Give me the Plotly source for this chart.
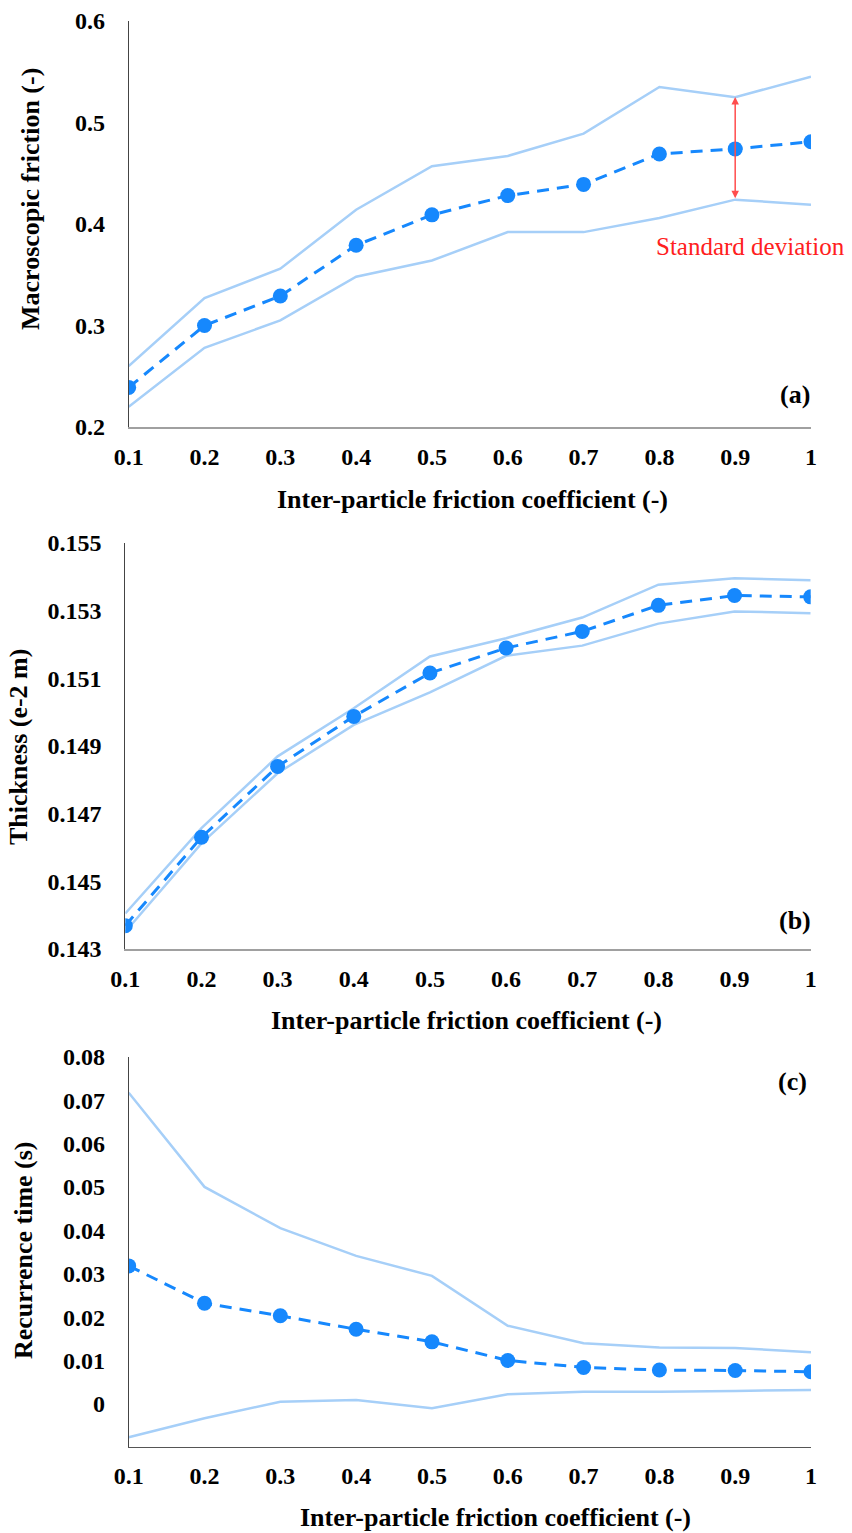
import plotly.graph_objects as go

# ---------------- data ----------------
friction_coef = [0.1, 0.2, 0.3, 0.4, 0.5, 0.6, 0.7, 0.8, 0.9, 1.0]
x_tick_text = ["0.1", "0.2", "0.3", "0.4", "0.5", "0.6", "0.7", "0.8", "0.9", "1"]

macro_mean = [0.239, 0.300, 0.329, 0.379, 0.409, 0.428, 0.439, 0.469, 0.474, 0.481]
macro_upper = [0.260, 0.327, 0.356, 0.414, 0.457, 0.467, 0.489, 0.535, 0.525, 0.545]
macro_lower = [0.220, 0.278, 0.305, 0.348, 0.364, 0.392, 0.392, 0.406, 0.424, 0.419]

thick_mean = [0.14369, 0.14630, 0.14839, 0.14987, 0.15115, 0.15189, 0.15238, 0.15315, 0.15344, 0.15340]
thick_upper = [0.14405, 0.14657, 0.14869, 0.15011, 0.15164, 0.15218, 0.15279, 0.15376, 0.15395, 0.15389]
thick_lower = [0.14351, 0.14612, 0.14819, 0.14962, 0.15058, 0.15166, 0.15196, 0.15261, 0.15297, 0.15292]

rec_mean = [0.0318, 0.0232, 0.0203, 0.0172, 0.0143, 0.0100, 0.0084, 0.0078, 0.0077, 0.0074]
rec_upper = [0.0717, 0.0500, 0.0405, 0.0341, 0.0295, 0.0180, 0.0140, 0.0130, 0.0129, 0.0119]
rec_lower = [-0.0077, -0.0033, 0.0005, 0.0009, -0.0010, 0.0022, 0.0028, 0.0028, 0.0030, 0.0032]

macro_ticks = [0.2, 0.3, 0.4, 0.5, 0.6]
macro_tick_text = ["0.2", "0.3", "0.4", "0.5", "0.6"]
thick_ticks = [0.143, 0.145, 0.147, 0.149, 0.151, 0.153, 0.155]
thick_tick_text = ["0.143", "0.145", "0.147", "0.149", "0.151", "0.153", "0.155"]
rec_ticks = [0, 0.01, 0.02, 0.03, 0.04, 0.05, 0.06, 0.07, 0.08]
rec_tick_text = ["0", "0.01", "0.02", "0.03", "0.04", "0.05", "0.06", "0.07", "0.08"]

# ---------------- style ----------------
W, H = 852, 1533
FONT = "Liberation Serif"
MEAN_C = "#1688fd"
BAND_C = "#a6cff8"


def px_x(x):
    return x / W


def px_y(y):
    return (H - y) / H


fig = go.Figure()

panels = [
    ("x", "y", macro_mean, macro_upper, macro_lower),
    ("x2", "y2", thick_mean, thick_upper, thick_lower),
    ("x3", "y3", rec_mean, rec_upper, rec_lower),
]
for xa, ya, m, u, l in panels:
    for band in (u, l):
        fig.add_trace(go.Scatter(x=friction_coef, y=band, mode="lines",
                                 line=dict(color=BAND_C, width=2.5),
                                 xaxis=xa, yaxis=ya, showlegend=False,
                                 hoverinfo="skip"))
    fig.add_trace(go.Scatter(x=friction_coef, y=m, mode="lines+markers",
                             line=dict(color=MEAN_C, width=3, dash="12px,8px"),
                             marker=dict(color=MEAN_C, size=15),
                             xaxis=xa, yaxis=ya, showlegend=False))

tickfont = dict(family=FONT, size=24, color="#000000", weight="bold")

xcommon = dict(range=[0.1, 1.0], tickvals=friction_coef, ticktext=x_tick_text,
               showgrid=False, zeroline=False, showline=True, ticks="",
               tickfont=tickfont, ticklabelstandoff=7, fixedrange=True,
               automargin=False)
ycommon = dict(showgrid=False, zeroline=False, showline=True, ticks="",
               linecolor="#444444", linewidth=1,
               tickfont=tickfont, ticklabelstandoff=18, fixedrange=True,
               automargin=False)

fig.update_layout(
    template="none",
    width=W, height=H,
    margin=dict(l=0, r=0, t=0, b=0, autoexpand=False),
    paper_bgcolor="white", plot_bgcolor="white",
    xaxis=dict(**xcommon, domain=[px_x(128.7), px_x(811)], anchor="y",
               linecolor="#a0a0a0", linewidth=2),
    yaxis=dict(**ycommon, domain=[px_y(427), px_y(21)], anchor="x",
               range=[0.2, 0.6], tickvals=macro_ticks, ticktext=macro_tick_text),
    xaxis2=dict(**xcommon, domain=[px_x(125.3), px_x(810.7)], anchor="y2",
                linecolor="#a0a0a0", linewidth=2),
    yaxis2=dict(**ycommon, domain=[px_y(949), px_y(542.7)], anchor="x2",
                range=[0.143, 0.155], tickvals=thick_ticks, ticktext=thick_tick_text),
    xaxis3=dict(**xcommon, domain=[px_x(128.7), px_x(811)], anchor="y3",
                linecolor="#555555", linewidth=1),
    yaxis3=dict(**ycommon, domain=[px_y(1447.3), px_y(1056.7)], anchor="x3",
                range=[-0.01, 0.08], tickvals=rec_ticks, ticktext=rec_tick_text),
)

title_font = dict(family=FONT, size=26, color="#000000", weight="bold")
annots = [
    # x-axis titles
    dict(text="Inter-particle friction coefficient (-)", x=px_x(472), y=px_y(499)),
    dict(text="Inter-particle friction coefficient (-)", x=px_x(466), y=px_y(1020)),
    dict(text="Inter-particle friction coefficient (-)", x=px_x(496), y=px_y(1517)),
    # y-axis titles
    dict(text="Macroscopic friction (-)", x=px_x(30), y=px_y(199), textangle=-90),
    dict(text="Thickness (e-2 m)", x=px_x(18), y=px_y(747), textangle=-90),
    dict(text="Recurrence time (s)", x=px_x(23), y=px_y(1250), textangle=-90),
    # panel labels
    dict(text="(a)", x=px_x(795), y=px_y(394)),
    dict(text="(b)", x=px_x(795), y=px_y(920)),
    dict(text="(c)", x=px_x(792), y=px_y(1081)),
]
for a in annots:
    fig.add_annotation(xref="paper", yref="paper", showarrow=False,
                       xanchor="center", yanchor="middle",
                       font=title_font, **a)

# standard deviation arrow at x = 0.9
fig.add_annotation(x=friction_coef[8], y=macro_upper[8],
                   ax=friction_coef[8], ay=macro_lower[8],
                   xref="x", yref="y", axref="x", ayref="y",
                   text="", showarrow=True, arrowhead=2, startarrowhead=2,
                   arrowside="end+start", arrowsize=1, startarrowsize=1,
                   arrowwidth=1.5, arrowcolor="#ff4d4d", standoff=0, startstandoff=0)
fig.add_annotation(xref="paper", yref="paper", x=px_x(750), y=px_y(246),
                   text="Standard deviation", showarrow=False,
                   xanchor="center", yanchor="middle",
                   font=dict(family=FONT, size=25, color="#ff2020"))

fig.write_html("out.html")
